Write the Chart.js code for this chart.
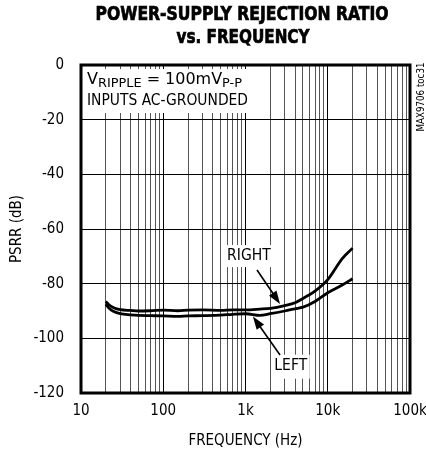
<!DOCTYPE html>
<html><head><meta charset="utf-8">
<script src="https://cdn.jsdelivr.net/npm/chart.js@4/dist/chart.umd.min.js"></script>
<style>html,body{margin:0;padding:0;background:#fff}#wrap{width:426px;height:456px}</style>
</head><body><div id="wrap"><canvas id="c" width="426" height="456"></canvas></div>
<script>
const freqHz    = [20, 22, 25, 30, 40, 50, 70, 100, 150, 200, 300, 500, 700, 1000, 1500, 2000, 3000, 4000, 5000, 7000, 10000, 15000, 20000];
const psrrRight = [-86.5, -87.8, -88.8, -89.5, -89.8, -90.0, -89.9, -89.7, -89.9, -89.7, -89.6, -89.8, -89.6, -89.6, -89.3, -89.0, -88.0, -87.0, -85.4, -82.7, -78.5, -70.8, -67.0];
const psrrLeft  = [-87.5, -89.0, -90.2, -91.0, -91.4, -91.6, -91.7, -91.8, -92.0, -91.8, -91.7, -91.5, -91.2, -91.0, -91.6, -91.0, -90.0, -89.2, -88.6, -86.5, -83.3, -80.5, -78.2];
const xTickValues = [10, 100, 1000, 10000, 100000];
const xTickLabels = ['10', '100', '1k', '10k', '100k'];
const yTickValues = [-120, -100, -80, -60, -40, -20, 0];
const titleLines = ['POWER-SUPPLY REJECTION RATIO', 'vs. FREQUENCY'];
const curveLabels = ['RIGHT', 'LEFT'];

const FONT = "'Liberation Sans Narrow','DejaVu Sans Condensed','Liberation Sans',Arial,sans-serif";

function minorGrid() {
  const out = [];
  for (let d = 10; d < 100000; d *= 10) for (let k = 1; k <= 9; k++) out.push(k * d);
  out.push(100000);
  return out;
}

function arrow(ctx, x1, y1, x2, y2) {
  const a = Math.atan2(y2 - y1, x2 - x1), L = 13, W = 4.5;
  ctx.beginPath(); ctx.moveTo(x1, y1);
  ctx.lineTo(x2 - L * 0.8 * Math.cos(a), y2 - L * 0.8 * Math.sin(a));
  ctx.lineWidth = 1.6; ctx.strokeStyle = '#000'; ctx.stroke();
  ctx.beginPath(); ctx.moveTo(x2, y2);
  ctx.lineTo(x2 - L * Math.cos(a) + W * Math.sin(a), y2 - L * Math.sin(a) - W * Math.cos(a));
  ctx.lineTo(x2 - L * Math.cos(a) - W * Math.sin(a), y2 - L * Math.sin(a) + W * Math.cos(a));
  ctx.closePath(); ctx.fillStyle = '#000'; ctx.fill();
}

const deco = {
  id: 'deco',
  afterDraw(chart) {
    const ctx = chart.ctx, ca = chart.chartArea, xs = chart.scales.x, ys = chart.scales.y;
    const px = v => xs.getPixelForValue(v), py = v => ys.getPixelForValue(v);
    ctx.save();
    // annotation box
    ctx.fillStyle = '#fff';
    ctx.fillRect(ca.left + 1, ca.top + 4, 171, 44);
    ctx.fillStyle = '#000'; ctx.textBaseline = 'alphabetic'; ctx.textAlign = 'left';
    const parts = [['V', 15.5, 0], ['RIPPLE', 12.5, 3], [' = 100mV', 15.5, 0], ['P-P', 12.5, 3]];
    let tw = 0;
    parts.forEach(p => { ctx.font = p[1] + 'px ' + FONT; tw += ctx.measureText(p[0]).width; });
    const x0 = ca.left + 6, y1 = ca.top + 19, sx = 155 / tw;
    ctx.save(); ctx.translate(x0, y1); ctx.scale(sx, 1);
    let x = 0;
    parts.forEach(p => { ctx.font = p[1] + 'px ' + FONT; ctx.fillText(p[0], x, p[2]); x += ctx.measureText(p[0]).width; });
    ctx.restore();
    ctx.font = '15.5px ' + FONT; ctx.fillText('INPUTS AC-GROUNDED', x0, ca.top + 40, 161);
    // curve labels
    const rx = px(1100), ry = py(-69.9), lx = px(3550), lyy = py(-110);
    ctx.fillStyle = '#fff';
    ctx.fillRect(rx - 25, ry - 11, 50, 22);
    ctx.fillRect(lx - 19, lyy - 11, 38, 24);
    ctx.fillStyle = '#000'; ctx.textAlign = 'center'; ctx.textBaseline = 'middle';
    ctx.font = '15.5px ' + FONT;
    ctx.fillText(curveLabels[0], rx, ry);
    ctx.fillText(curveLabels[1], lx, lyy);
    arrow(ctx, px(1380), py(-75), px(2630), py(-87.4));
    arrow(ctx, px(2630), py(-106.1), px(1230), py(-92));
    // frame
    ctx.lineWidth = 3; ctx.strokeStyle = '#000';
    ctx.strokeRect(ca.left, ca.top, ca.right - ca.left, ca.bottom - ca.top);
    // title
    ctx.textAlign = 'center'; ctx.textBaseline = 'alphabetic';
    ctx.font = 'bold 20px ' + FONT; ctx.lineWidth = 0.7;
    ctx.fillText(titleLines[0], 242, 20, 293); ctx.strokeText(titleLines[0], 242, 20, 293);
    ctx.fillText(titleLines[1], 243, 43, 133); ctx.strokeText(titleLines[1], 243, 43, 133);
    // side text
    ctx.save(); ctx.translate(421, 97); ctx.rotate(-Math.PI / 2);
    ctx.font = '10px ' + FONT; ctx.fillStyle = '#000'; ctx.textBaseline = 'middle';
    ctx.fillText('MAX9706 toc31', 0, 0, 69);
    ctx.restore();
    ctx.restore();
  }
};

new Chart(document.getElementById('c'), {
  type: 'line',
  data: {
    datasets: [
      { label: 'RIGHT', data: freqHz.map((f, i) => ({ x: f, y: psrrRight[i] })) },
      { label: 'LEFT', data: freqHz.map((f, i) => ({ x: f, y: psrrLeft[i] })) }
    ].map(d => Object.assign(d, { borderColor: '#000', borderWidth: 2.8, pointRadius: 0, fill: false, cubicInterpolationMode: 'monotone' }))
  },
  options: {
    responsive: false, animation: false, devicePixelRatio: 1,
    layout: { padding: { top: 65, right: 4, bottom: 0, left: 0 } },
    plugins: { legend: { display: false }, tooltip: { enabled: false }, title: { display: false } },
    scales: {
      x: {
        type: 'logarithmic', min: 10, max: 100000,
        afterBuildTicks: s => { s.ticks = minorGrid().map(v => ({ value: v })); },
        afterFit: s => { s.height = 63; s.paddingRight = 16; s.paddingLeft = 0; },
        ticks: {
          autoSkip: false, maxRotation: 0, minRotation: 0, padding: 9, color: '#000',
          font: { family: FONT, size: 15 },
          callback: v => { const i = xTickValues.indexOf(v); return i >= 0 ? xTickLabels[i] : ''; }
        },
        grid: { drawTicks: false, lineWidth: 1, color: c => (xTickValues.indexOf(c.tick && c.tick.value) >= 0 ? '#000' : '#555') },
        border: { display: false },
        title: { display: true, text: 'FREQUENCY (Hz)', color: '#000', font: { family: FONT, size: 15 }, padding: { top: 2, bottom: 6 } }
      },
      y: {
        type: 'linear', min: -120, max: 0,
        afterBuildTicks: s => { s.ticks = yTickValues.map(v => ({ value: v })); },
        afterFit: s => { s.width = 81; },
        ticks: { padding: 17, color: '#000', font: { family: FONT, size: 15 } },
        grid: { drawTicks: false, color: '#000', lineWidth: 1 },
        border: { display: false },
        title: { display: true, text: 'PSRR (dB)', color: '#000', font: { family: FONT, size: 15 }, padding: { top: 8, bottom: 0 } }
      }
    }
  },
  plugins: [deco]
});
</script></body></html>
